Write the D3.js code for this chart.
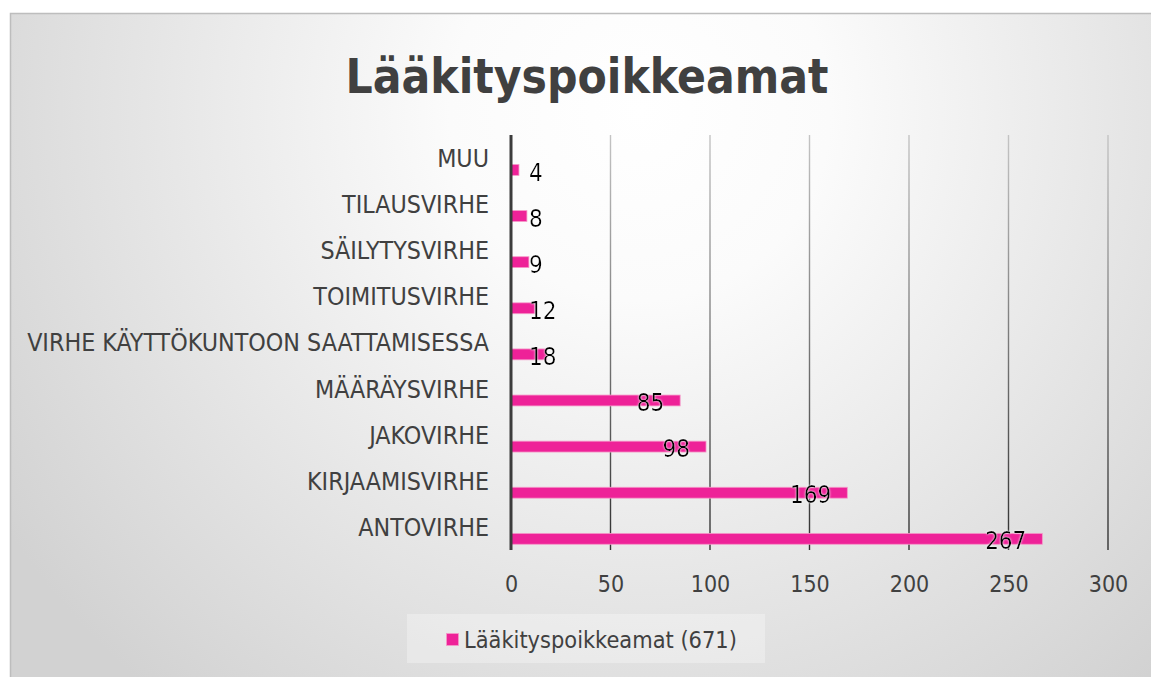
<!DOCTYPE html>
<html>
<head>
<meta charset="utf-8">
<script src="https://cdn.jsdelivr.net/npm/d3@7"></script>
<style>
  html, body { margin: 0; padding: 0; background: #fff; }
  svg { display: block; font-family: "DejaVu Sans Condensed", "DejaVu Sans", sans-serif; }
</style>
</head>
<body>
<svg width="1151" height="677"></svg>
<script>
// luokat ylhäältä alas
const categories = ["MUU", "TILAUSVIRHE", "SÄILYTYSVIRHE", "TOIMITUSVIRHE",
    "VIRHE KÄYTTÖKUNTOON SAATTAMISESSA", "MÄÄRÄYSVIRHE", "JAKOVIRHE",
    "KIRJAAMISVIRHE", "ANTOVIRHE"];
const values = [4, 8, 9, 12, 18, 85, 98, 169, 267];
const xTicks = [0, 50, 100, 150, 200, 250, 300];
const title = "Lääkityspoikkeamat";
const seriesName = "Lääkityspoikkeamat (671)";

const pink = "#ee2298";
const textGray = "#404040";

const svg = d3.select("svg");
const W = 1151, H = 677;

const defs = svg.append("defs");
// taustan säteittäinen liukuväri
const bg = defs.append("radialGradient")
    .attr("id", "bg").attr("gradientUnits", "userSpaceOnUse")
    .attr("cx", 640).attr("cy", 110).attr("r", 760);
bg.append("stop").attr("offset", "0").attr("stop-color", "#ffffff");
bg.append("stop").attr("offset", "0.25").attr("stop-color", "#fbfbfb");
bg.append("stop").attr("offset", "1").attr("stop-color", "#d2d2d2");

// ruudukon viivat tummuvat alaspäin
const gl = defs.append("linearGradient")
    .attr("id", "grid").attr("gradientUnits", "userSpaceOnUse")
    .attr("x1", 0).attr("y1", 135).attr("x2", 0).attr("y2", 550);
gl.append("stop").attr("offset", "0").attr("stop-color", "#c4c4c4");
gl.append("stop").attr("offset", "0.6").attr("stop-color", "#6a6a6a");
gl.append("stop").attr("offset", "1").attr("stop-color", "#303030");

const glow = defs.append("filter").attr("id", "glow")
    .attr("x", "-20%").attr("y", "-20%").attr("width", "140%").attr("height", "140%");
glow.append("feGaussianBlur").attr("in", "SourceAlpha").attr("stdDeviation", 1.2).attr("result", "b");
glow.append("feFlood").attr("flood-color", "#ffffff").attr("flood-opacity", 0.9);
glow.append("feComposite").attr("in2", "b").attr("operator", "in").attr("result", "s");
const fm = glow.append("feMerge");
fm.append("feMergeNode").attr("in", "s");
fm.append("feMergeNode").attr("in", "SourceGraphic");

// kehys ja tausta
svg.append("rect")
    .attr("x", 10.5).attr("y", 13.5)
    .attr("width", W + 20).attr("height", H + 20)
    .attr("fill", "url(#bg)")
    .attr("stroke", "#bdbdbd").attr("stroke-width", 1.5);

// otsikko
const t = svg.append("text")
    .attr("x", 587).attr("y", 93)
    .attr("text-anchor", "middle")
    .attr("font-weight", "bold")
    .attr("font-size", 48)
    .attr("fill", textGray)
    .text(title);
const tw = t.node().getComputedTextLength();
t.attr("font-size", 48 * 483 / tw);

// asteikot
const x = d3.scaleLinear().domain([0, 300]).range([511, 1108]);
const y = d3.scaleBand().domain(categories).range([135, 550]);
// kolmen sarjan ryhmä, vain viimeinen näkyy
const inner = d3.scaleBand().domain(["s1", "s2", "s3"])
    .range([0, y.bandwidth()]).paddingOuter(0.62);
const barH = inner.bandwidth();

// pystyruudukko
svg.append("g")
    .selectAll("line")
    .data(xTicks.filter(d => d > 0))
    .join("line")
    .attr("x1", d => x(d)).attr("x2", d => x(d))
    .attr("y1", 135).attr("y2", 550)
    .attr("stroke", "url(#grid)")
    .attr("stroke-width", 1.4);

// x-akselin tekstit
const axisX = d3.axisBottom(x).tickValues(xTicks).tickSize(0).tickPadding(0);
const gx = svg.append("g")
    .attr("transform", "translate(0, 574)")
    .call(axisX);
gx.select(".domain").remove();
gx.selectAll("text")
    .attr("font-size", 23)
    .attr("font-family", "DejaVu Sans Condensed, DejaVu Sans, sans-serif")
    .attr("fill", textGray)
    .attr("dy", "0.8em");

// pylväät
svg.append("g")
    .selectAll("rect")
    .data(values)
    .join("rect")
    .attr("x", x(0))
    .attr("y", (d, i) => y(categories[i]) + inner("s3") + 1)
    .attr("width", d => x(d) - x(0))
    .attr("height", barH)
    .attr("fill", pink)
    .attr("stroke", "#f59ac9")
    .attr("stroke-width", 0.8);

// y-akselin viiva
svg.append("line")
    .attr("x1", x(0)).attr("x2", x(0))
    .attr("y1", 135).attr("y2", 550)
    .attr("stroke", "#3c3c3c").attr("stroke-width", 3);

// luokkien nimet
const gy = svg.append("g");
const labels = gy.selectAll("text")
    .data(categories)
    .join("text")
    .attr("x", 489)
    .attr("y", d => y(d) + y.bandwidth() / 2)
    .attr("dy", "0.36em")
    .attr("text-anchor", "end")
    .attr("font-size", 19)
    .attr("fill", textGray)
    .text(d => d);
const longest = d3.max(labels.nodes(), n => n.getComputedTextLength());
labels.attr("font-size", 19 * 462 / longest);

// arvot pylväiden päähän
const vl = svg.append("g").attr("filter", "url(#glow)");
vl.selectAll("text")
    .data(values)
    .join("text")
    .attr("y", (d, i) => y(categories[i]) + inner("s3") + barH / 2 + 3)
    .attr("dy", "0.36em")
    .attr("font-size", 24)
    .attr("fill", "#000")
    .text(d => d)
    .each(function(d) {
        const w = this.getComputedTextLength();
        const endX = x(d) - 16;
        if (endX - w < x(0) + 18) {
            d3.select(this).attr("x", x(0) + 18).attr("text-anchor", "start");
        } else {
            d3.select(this).attr("x", endX).attr("text-anchor", "end");
        }
    });

// selite
const lg = svg.append("g");
lg.append("rect")
    .attr("x", 407).attr("y", 614)
    .attr("width", 358).attr("height", 49)
    .attr("fill", "#ffffff").attr("fill-opacity", 0.3);
lg.append("rect")
    .attr("x", 446.5).attr("y", 633.5)
    .attr("width", 12).attr("height", 12)
    .attr("fill", pink)
    .attr("stroke", "#f59ac9").attr("stroke-width", 0.8);
const lt = lg.append("text")
    .attr("x", 464).attr("y", 640)
    .attr("dy", "0.36em")
    .attr("font-size", 21)
    .attr("fill", textGray)
    .text(seriesName);
const lw = lt.node().getComputedTextLength();
lt.attr("font-size", 21 * 273 / lw);
</script>
</body>
</html>
